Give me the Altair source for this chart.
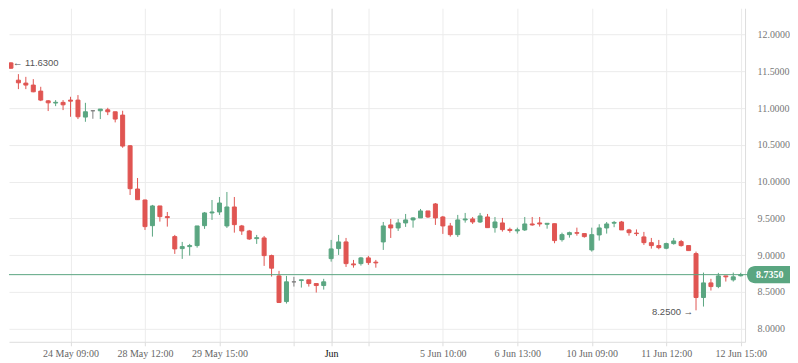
import altair as alt
import pandas as pd

# ---- data (one candle per period) ----
opens = [11.447, 11.614, 11.379, 11.339, 11.312, 11.230, 11.098, 11.068, 11.077, 11.108,
         11.108, 10.877, 10.963, 10.963, 10.976, 10.949, 10.904, 10.487, 9.899, 9.750,
         9.401, 9.669, 9.524, 9.252, 9.089, 9.116, 9.130, 9.401, 9.574, 9.587,
         9.397, 9.655, 9.397, 9.329, 9.225, 9.234, 8.994, 8.718, 8.369, 8.637,
         8.655, 8.664, 8.614, 8.587, 8.953, 9.089, 9.180, 8.881, 8.885, 8.963,
         8.905, 9.180, 9.411, 9.370, 9.438, 9.479, 9.506, 9.601, 9.696, 9.519,
         9.397, 9.279, 9.479, 9.492, 9.451, 9.519, 9.374, 9.438, 9.350, 9.330,
         9.343, 9.424, 9.438, 9.420, 9.428, 9.211, 9.279, 9.306, 9.293, 9.071,
         9.275, 9.370, 9.435, 9.451, 9.343, 9.300, 9.248, 9.170, 9.130, 9.094,
         9.157, 9.184, 9.130, 9.021, 8.424, 8.623, 8.573, 8.718, 8.664, 8.720]
highs = [11.630, 11.624, 11.461, 11.424, 11.393, 11.289, 11.108, 11.108, 11.108, 11.153,
         11.176, 11.071, 10.972, 10.986, 11.003, 10.949, 10.963, 10.497, 10.049, 9.755,
         9.683, 9.669, 9.587, 9.275, 9.180, 9.153, 9.397, 9.587, 9.750, 9.791,
         9.859, 9.791, 9.411, 9.343, 9.275, 9.261, 9.007, 8.786, 8.718, 8.705,
         8.665, 8.664, 8.614, 8.678, 9.207, 9.275, 9.234, 8.935, 8.976, 8.990,
         8.935, 9.451, 9.492, 9.492, 9.560, 9.515, 9.628, 9.601, 9.709, 9.533,
         9.438, 9.547, 9.574, 9.519, 9.574, 9.560, 9.519, 9.506, 9.374, 9.374,
         9.519, 9.519, 9.519, 9.433, 9.428, 9.306, 9.320, 9.374, 9.293, 9.374,
         9.420, 9.451, 9.465, 9.465, 9.357, 9.350, 9.316, 9.234, 9.207, 9.170,
         9.234, 9.207, 9.130, 9.048, 8.763, 8.678, 8.759, 8.718, 8.763, 8.760]
lows = [11.438, 11.533, 11.257, 11.257, 11.215, 11.094, 10.959, 11.026, 10.972, 10.881,
        10.850, 10.813, 10.854, 10.850, 10.904, 10.805, 10.460, 9.818, 9.750, 9.343,
        9.252, 9.456, 9.388, 9.017, 8.949, 8.994, 9.102, 9.357, 9.479, 9.547,
        9.370, 9.306, 9.275, 9.207, 9.153, 8.854, 8.709, 8.350, 8.342, 8.573,
        8.559, 8.573, 8.492, 8.532, 8.912, 9.003, 8.840, 8.830, 8.858, 8.868,
        8.830, 9.071, 9.234, 9.329, 9.384, 9.374, 9.506, 9.506, 9.411, 9.289,
        9.252, 9.248, 9.442, 9.424, 9.438, 9.374, 9.306, 9.320, 9.306, 9.293,
        9.329, 9.400, 9.388, 9.360, 9.162, 9.184, 9.238, 9.265, 9.238, 9.048,
        9.198, 9.293, 9.380, 9.343, 9.265, 9.260, 9.139, 9.089, 9.080, 9.080,
        9.143, 9.116, 9.062, 8.250, 8.301, 8.519, 8.551, 8.641, 8.641, 8.710]
closes = [11.614, 11.542, 11.343, 11.312, 11.221, 11.108, 11.071, 11.078, 11.044, 11.094,
          10.881, 10.949, 10.963, 10.986, 10.949, 10.850, 10.483, 9.904, 9.754, 9.388,
          9.669, 9.524, 9.510, 9.085, 9.116, 9.130, 9.397, 9.574, 9.587, 9.709,
          9.655, 9.415, 9.329, 9.220, 9.238, 8.994, 8.823, 8.356, 8.637, 8.637,
          8.665, 8.614, 8.587, 8.637, 9.085, 9.180, 8.885, 8.868, 8.963, 8.899,
          8.895, 9.397, 9.370, 9.438, 9.479, 9.506, 9.601, 9.519, 9.506, 9.397,
          9.279, 9.479, 9.492, 9.451, 9.533, 9.374, 9.451, 9.347, 9.335, 9.345,
          9.424, 9.411, 9.424, 9.433, 9.198, 9.279, 9.306, 9.298, 9.252, 9.279,
          9.370, 9.424, 9.445, 9.343, 9.306, 9.293, 9.170, 9.130, 9.102, 9.157,
          9.193, 9.130, 9.062, 8.424, 8.623, 8.573, 8.718, 8.705, 8.705, 8.735]

tick_idx = [9, 19, 29, 39, 44, 49, 59, 69, 79, 89, 99]
tick_text = ["24 May 09:00", "28 May 12:00", "29 May 15:00", "", "Jun", "",
             "5 Jun 10:00", "6 Jun 13:00", "10 Jun 09:00", "11 Jun 12:00", "12 Jun 15:00"]
month_idx = 44
y_ticks = [8.0, 8.5, 9.0, 9.5, 10.0, 10.5, 11.0, 11.5, 12.0]

last_price = 8.735
max_idx, max_val, max_text = 0, 11.63, "\u2190 11.6300"
min_idx, min_val, min_text = 93, 8.25, "8.2500 \u2192"

GREEN = "#5aa681"
RED = "#e05552"
GRAY = "#808080"

# ---- tables ----
def direction(o, c):
    if c > o:
        return "up"
    if c < o:
        return "down"
    return "flat"

df = pd.DataFrame({
    "i": list(range(len(opens))),
    "open": opens, "high": highs, "low": lows, "close": closes,
})
df["dir"] = [direction(o, c) for o, c in zip(opens, closes)]

price_df = pd.DataFrame({"p": [last_price],
                         "lo": [last_price - 0.116], "hi": [last_price + 0.116],
                         "txt": [f"{last_price:.4f}"]})
ann_df = pd.DataFrame({"i": [max_idx], "v": [max_val], "t": [max_text]})
ann2_df = pd.DataFrame({"i": [min_idx], "v": [min_val], "t": [min_text]})

label_expr = " : ".join(
    [f"datum.value == {k} ? '{t}'" for k, t in zip(tick_idx, tick_text)]) + " : ''"

x_scale = alt.Scale(domain=[0.738, 99.584], nice=False, zero=False, padding=0)
y_scale = alt.Scale(domain=[7.8221, 12.357], nice=False, zero=False, padding=0)

x_axis = alt.Axis(
    values=tick_idx, labelExpr=label_expr, title=None, orient="bottom",
    grid=True,
    gridColor={"condition": {"test": f"datum.value == {month_idx}", "value": "#d4d4d4"},
               "value": "#ececec"},
    tickSize=4, tickColor="#dddddd", domainColor="#dddddd",
    labelFont="Liberation Serif", labelFontSize=10, labelPadding=3,
    labelColor={"condition": {"test": f"datum.value == {month_idx}", "value": "#111111"},
                "value": "#666666"},
    labelOverlap=False, labelFlush=False,
)
y_axis = alt.Axis(
    values=y_ticks, format=".4f", title=None, orient="right",
    grid=True, gridColor="#ececec", tickSize=0, domainColor="#dddddd",
    labelFont="Liberation Serif", labelFontSize=10, labelPadding=12,
    labelColor="#777777", labelAlign="left",
)

color = alt.Color("dir:N", scale=alt.Scale(domain=["up", "down", "flat"],
                                            range=[GREEN, RED, GRAY]), legend=None)

base = alt.Chart(df)

wicks = base.mark_rule(strokeWidth=1, clip=True).encode(
    x=alt.X("i:Q", scale=x_scale, axis=x_axis),
    y=alt.Y("low:Q", scale=y_scale, axis=y_axis),
    y2="high:Q",
    color=color,
)
bodies = base.mark_bar(width=4, strokeWidth=1, clip=True).encode(
    x=alt.X("i:Q", scale=x_scale),
    y=alt.Y("open:Q", scale=y_scale),
    y2="close:Q",
    color=color,
    stroke=color,
)

price_line = alt.Chart(price_df).mark_rule(color=GREEN, strokeWidth=1).encode(
    y=alt.Y("p:Q", scale=y_scale),
    x=alt.value(0), x2=alt.value(740),
)
badge = alt.Chart(price_df).mark_rect(
    color=GREEN, cornerRadiusTopLeft=8, cornerRadiusBottomLeft=8, clip=False
).encode(
    y=alt.Y("lo:Q", scale=y_scale), y2="hi:Q",
    x=alt.value(739), x2=alt.value(782),
)
badge_text = alt.Chart(price_df).mark_text(
    color="white", font="Liberation Serif", fontSize=10, fontWeight="bold",
    align="left", baseline="middle", clip=False
).encode(
    y=alt.Y("p:Q", scale=y_scale), x=alt.value(748), text="txt:N",
)

ann_max = alt.Chart(ann_df).mark_text(
    font="Liberation Sans", fontSize=9.5, color="#555555", align="left",
    baseline="middle", dx=9.5, dy=1.5
).encode(x=alt.X("i:Q", scale=x_scale), y=alt.Y("v:Q", scale=y_scale), text="t:N")
ann_min = alt.Chart(ann2_df).mark_text(
    font="Liberation Sans", fontSize=9.5, color="#555555", align="right",
    baseline="middle", dx=-3, dy=2
).encode(x=alt.X("i:Q", scale=x_scale), y=alt.Y("v:Q", scale=y_scale), text="t:N")

chart = alt.layer(wicks, bodies, price_line, badge, badge_text, ann_max, ann_min).properties(
    width=737, height=334, padding=0, background="white"
).configure_view(stroke=None)

chart.save("out.html", embed_options={"renderer": "svg", "actions": False})
